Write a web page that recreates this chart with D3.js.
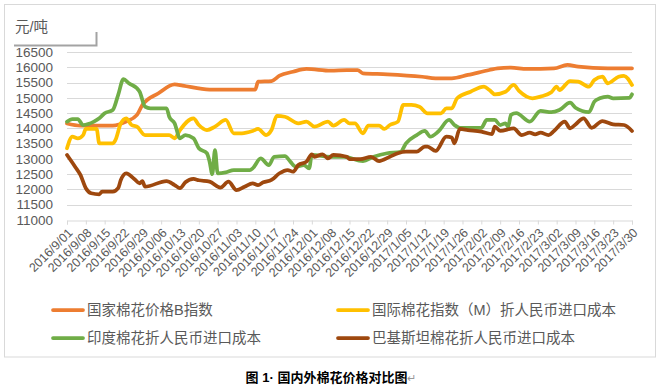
<!DOCTYPE html>
<html>
<head>
<meta charset="utf-8">
<script src="https://cdn.jsdelivr.net/npm/d3@7.9.0/dist/d3.min.js"></script>
<style>
  body { margin: 0; background: #fff; }
  text { font-family: "Liberation Sans", "Noto Sans CJK SC", sans-serif; }
</style>
</head>
<body>
<svg id="chart" width="662" height="386"></svg>
<script>
// 国内外棉花价格对比 (元/吨), 2016/9/01 - 2017/3/30
const startDate = '2016-09-01';
const endDate = '2017-03-30';
const yMin = 11000, yMax = 16500, yStep = 500;

const seriesNames = [
  '国家棉花价格B指数',
  '国际棉花指数（M）折人民币进口成本',
  '印度棉花折人民币进口成本',
  '巴基斯坦棉花折人民币进口成本'
];
const seriesColors = ['#ED7D31', '#FFC000', '#70AD47', '#9E480E'];

const bIndex = [
  ['2016-09-01', 14160], ['2016-09-06', 14090], ['2016-09-18', 14090], ['2016-09-23', 14220],
  ['2016-09-27', 14440], ['2016-09-29', 14765], ['2016-10-05', 15150], ['2016-10-11', 15440],
  ['2016-10-14', 15400], ['2016-10-24', 15270], ['2016-11-10', 15270], ['2016-11-11', 15530],
  ['2016-11-16', 15550], ['2016-11-19', 15725], ['2016-11-24', 15855], ['2016-11-29', 15945],
  ['2016-12-08', 15890], ['2016-12-14', 15910], ['2016-12-18', 15910], ['2016-12-20', 15800],
  ['2016-12-29', 15770], ['2017-01-11', 15690], ['2017-01-16', 15640], ['2017-01-22', 15640],
  ['2017-01-28', 15750], ['2017-02-05', 15910], ['2017-02-08', 15965], ['2017-02-13', 15990],
  ['2017-02-19', 15945], ['2017-03-01', 15965], ['2017-03-06', 16075], ['2017-03-10', 16020],
  ['2017-03-21', 15965], ['2017-03-30', 15965]
];

const mIndex = [
  ['2016-09-01', 13350], ['2016-09-03', 13730], ['2016-09-05', 13675], ['2016-09-07', 13780],
  ['2016-09-08', 13980], ['2016-09-12', 13980], ['2016-09-13', 13510], ['2016-09-18', 13510],
  ['2016-09-19', 13620], ['2016-09-21', 14165], ['2016-09-23', 14330], ['2016-09-25', 14110],
  ['2016-09-27', 14055], ['2016-09-30', 13780], ['2016-10-09', 13780], ['2016-10-11', 13675],
  ['2016-10-13', 13945], ['2016-10-18', 14330], ['2016-10-20', 14110], ['2016-10-23', 13945],
  ['2016-10-26', 14055], ['2016-10-30', 14275], ['2016-11-02', 13840], ['2016-11-05', 13840],
  ['2016-11-09', 13915], ['2016-11-11', 13980], ['2016-11-14', 13780], ['2016-11-16', 13945],
  ['2016-11-18', 14405], ['2016-11-21', 14380], ['2016-11-26', 14165], ['2016-11-29', 14220],
  ['2016-12-02', 14055], ['2016-12-07', 14220], ['2016-12-09', 14090], ['2016-12-13', 14275],
  ['2016-12-15', 14165], ['2016-12-17', 14165], ['2016-12-20', 13840], ['2016-12-22', 14090],
  ['2016-12-26', 14090], ['2016-12-28', 13980], ['2016-12-30', 14110], ['2017-01-02', 14220],
  ['2017-01-04', 14765], ['2017-01-07', 14765], ['2017-01-10', 14710], ['2017-01-13', 14490],
  ['2017-01-18', 14490], ['2017-01-20', 14655], ['2017-01-22', 14655], ['2017-01-24', 14985],
  ['2017-01-29', 15200], ['2017-02-03', 15365], ['2017-02-05', 15255], ['2017-02-07', 15115],
  ['2017-02-11', 15200], ['2017-02-14', 15420], ['2017-02-16', 15225], ['2017-02-21', 14985],
  ['2017-02-24', 15040], ['2017-02-28', 15180], ['2017-03-02', 15365], ['2017-03-03', 15255],
  ['2017-03-07', 15550], ['2017-03-10', 15530], ['2017-03-14', 15365], ['2017-03-16', 15585],
  ['2017-03-19', 15690], ['2017-03-21', 15475], ['2017-03-25', 15690], ['2017-03-27', 15720],
  ['2017-03-30', 15420]
];

const india = [
  ['2016-09-01', 14220], ['2016-09-03', 14305], ['2016-09-05', 14305], ['2016-09-07', 14110],
  ['2016-09-11', 14220], ['2016-09-13', 14330], ['2016-09-15', 14495], ['2016-09-18', 14600],
  ['2016-09-20', 15090], ['2016-09-22', 15615], ['2016-09-24', 15475], ['2016-09-27', 15310],
  ['2016-09-28', 15200], ['2016-09-30', 14710], ['2016-10-02', 14655], ['2016-10-08', 14655],
  ['2016-10-09', 14380], ['2016-10-11', 14165], ['2016-10-13', 13675], ['2016-10-15', 13780],
  ['2016-10-18', 13675], ['2016-10-20', 13350], ['2016-10-23', 13185], ['2016-10-24', 12910],
  ['2016-10-25', 12500], ['2016-10-26', 13290], ['2016-10-27', 12530], ['2016-10-30', 12560],
  ['2016-11-02', 12635], ['2016-11-08', 12635], ['2016-11-09', 12690], ['2016-11-12', 13015],
  ['2016-11-15', 12800], ['2016-11-17', 13070], ['2016-11-21', 13095], ['2016-11-23', 12910],
  ['2016-11-25', 12745], ['2016-11-28', 12800], ['2016-11-30', 12690], ['2016-12-01', 13130],
  ['2016-12-08', 13070], ['2016-12-13', 13070], ['2016-12-20', 12930], ['2016-12-24', 13070],
  ['2016-12-29', 13185], ['2017-01-03', 13235], ['2017-01-05', 13510], ['2017-01-09', 13780],
  ['2017-01-12', 13915], ['2017-01-14', 13730], ['2017-01-17', 13895], ['2017-01-21', 14275],
  ['2017-01-23', 14110], ['2017-01-25', 14020], ['2017-02-02', 14020], ['2017-02-04', 14275],
  ['2017-02-07', 14275], ['2017-02-09', 14110], ['2017-02-11', 14165], ['2017-02-12', 14055],
  ['2017-02-13', 14440], ['2017-02-15', 14495], ['2017-02-20', 14220], ['2017-02-24', 14570],
  ['2017-02-28', 14530], ['2017-03-03', 14600], ['2017-03-07', 14840], ['2017-03-09', 14675],
  ['2017-03-14', 14530], ['2017-03-16', 14875], ['2017-03-18', 14985], ['2017-03-21', 15040],
  ['2017-03-23', 14985], ['2017-03-29', 15000], ['2017-03-30', 15115]
];

const pakistan = [
  ['2016-09-01', 13130], ['2016-09-04', 12745], ['2016-09-06', 12475], ['2016-09-08', 12040],
  ['2016-09-10', 11875], ['2016-09-13', 11840], ['2016-09-14', 11925], ['2016-09-18', 11925],
  ['2016-09-20', 12040], ['2016-09-21', 12310], ['2016-09-23', 12530], ['2016-09-26', 12345],
  ['2016-09-28', 12200], ['2016-09-29', 12275], ['2016-09-30', 12090], ['2016-10-08', 12275],
  ['2016-10-11', 12145], ['2016-10-13', 12040], ['2016-10-15', 12235], ['2016-10-18', 12345],
  ['2016-10-20', 12300], ['2016-10-24', 12255], ['2016-10-28', 12060], ['2016-10-31', 12255],
  ['2016-11-03', 11980], ['2016-11-06', 12090], ['2016-11-09', 12200], ['2016-11-11', 12145],
  ['2016-11-13', 12235], ['2016-11-16', 12310], ['2016-11-19', 12530], ['2016-11-22', 12635],
  ['2016-11-24', 12580], ['2016-11-26', 12800], ['2016-11-29', 12910], ['2016-12-01', 13150],
  ['2016-12-02', 13070], ['2016-12-05', 13150], ['2016-12-07', 13015], ['2016-12-09', 13130],
  ['2016-12-14', 13070], ['2016-12-15', 12995], ['2016-12-19', 12995], ['2016-12-23', 13070],
  ['2016-12-26', 12930], ['2016-12-30', 13070], ['2017-01-02', 13185], ['2017-01-05', 13235],
  ['2017-01-09', 13235], ['2017-01-12', 13400], ['2017-01-13', 13400], ['2017-01-16', 13260],
  ['2017-01-20', 13730], ['2017-01-22', 13700], ['2017-01-23', 13510], ['2017-01-25', 13980],
  ['2017-01-28', 13945], ['2017-02-02', 13895], ['2017-02-06', 13815], ['2017-02-07', 14055],
  ['2017-02-09', 13915], ['2017-02-14', 14000], ['2017-02-17', 13780], ['2017-02-20', 13860],
  ['2017-02-22', 13805], ['2017-02-24', 13860], ['2017-02-27', 13780], ['2017-03-01', 13915],
  ['2017-03-05', 14220], ['2017-03-07', 14000], ['2017-03-09', 14130], ['2017-03-12', 14330],
  ['2017-03-15', 14020], ['2017-03-19', 14240], ['2017-03-23', 14130], ['2017-03-27', 14110],
  ['2017-03-30', 13915]
];

const allSeries = [bIndex, mIndex, india, pakistan];

const parse = d3.timeParse('%Y-%m-%d');
const svg = d3.select('#chart');
const textColor = '#595959';
const gridColor = '#d9d9d9';

const plot = { left: 67, right: 632, top: 52, bottom: 220 };

const x = d3.scaleTime()
  .domain([parse(startDate), parse(endDate)])
  .range([plot.left, plot.right]);
const y = d3.scaleLinear()
  .domain([yMin, yMax])
  .range([plot.bottom, plot.top]);

// chart frame
svg.append('rect')
  .attr('x', 4.5).attr('y', 4.5)
  .attr('width', 651).attr('height', 352.5)
  .attr('fill', '#fff')
  .attr('stroke', gridColor);

// gridlines
const yTicks = d3.range(yMin, yMax + 1, yStep);
svg.append('g')
  .selectAll('line')
  .data(yTicks.filter(d => d > yMin))
  .join('line')
  .attr('x1', plot.left).attr('x2', plot.right)
  .attr('y1', d => Math.round(y(d)) + 0.5)
  .attr('y2', d => Math.round(y(d)) + 0.5)
  .attr('stroke', gridColor);

// y axis labels
svg.append('g')
  .selectAll('text')
  .data(yTicks)
  .join('text')
  .attr('x', 53)
  .attr('y', d => y(d))
  .attr('dy', '0.35em')
  .attr('text-anchor', 'end')
  .attr('font-size', 13.5)
  .attr('fill', textColor)
  .text(d => d);

// x axis
const fmt = d => `${d.getFullYear()}/${d.getMonth() + 1}/${d3.timeFormat('%d')(d)}`;
const xAxis = d3.axisBottom(x)
  .ticks(d3.timeThursday.every(1))
  .tickSize(4)
  .tickFormat(fmt);

const gx = svg.append('g')
  .attr('transform', `translate(0,${Math.round(plot.bottom) + 0.5})`)
  .call(xAxis);
gx.select('.domain').attr('stroke', gridColor);
gx.selectAll('.tick line').attr('stroke', gridColor);
gx.selectAll('.tick text')
  .attr('fill', textColor)
  .attr('font-size', 12.5)
  .attr('font-family', '"Liberation Sans", sans-serif')
  .attr('text-anchor', 'end')
  .attr('y', 0)
  .attr('dy', 0)
  .attr('transform', 'translate(6,13) rotate(-45)');

// unit label with its text-box shadow
svg.append('path')
  .attr('d', 'M14,45.5 H96.5 V32')
  .attr('fill', 'none')
  .attr('stroke', '#8c8c8c')
  .attr('stroke-width', 2)
  .attr('opacity', 0.8);
svg.append('text')
  .attr('x', 15).attr('y', 32)
  .attr('font-size', 14.5)
  .attr('fill', textColor)
  .text('元/吨');

// lines
const line = d3.line()
  .x(d => x(parse(d[0])))
  .y(d => y(d[1]))
  .curve(d3.curveMonotoneX);

svg.append('g')
  .selectAll('path')
  .data(allSeries)
  .join('path')
  .attr('d', line)
  .attr('fill', 'none')
  .attr('stroke', (d, i) => seriesColors[i])
  .attr('stroke-width', 3.75)
  .attr('stroke-linejoin', 'round')
  .attr('stroke-linecap', 'round');

// legend
const legendPos = [[53, 310], [338, 310], [53, 338], [338, 338]];
const legend = svg.append('g')
  .selectAll('g')
  .data(seriesNames)
  .join('g')
  .attr('transform', (d, i) => `translate(${legendPos[i][0]},${legendPos[i][1]})`);
legend.append('line')
  .attr('x1', 0).attr('x2', 30)
  .attr('stroke', (d, i) => seriesColors[i])
  .attr('stroke-width', 3.75)
  .attr('stroke-linecap', 'round');
legend.append('text')
  .attr('x', 34)
  .attr('dy', '0.35em')
  .attr('font-size', 14.5)
  .attr('fill', textColor)
  .text(d => d);

// caption under the chart
const caption = svg.append('text')
  .attr('x', 331).attr('y', 382)
  .attr('text-anchor', 'middle')
  .attr('font-size', 13)
  .attr('font-weight', 'bold')
  .attr('fill', '#000');
caption.append('tspan').text('图 1· 国内外棉花价格对比图');
caption.append('tspan')
  .attr('font-weight', 'normal')
  .attr('fill', '#999')
  .attr('font-size', 11)
  .text('↵');
</script>
</body>
</html>
